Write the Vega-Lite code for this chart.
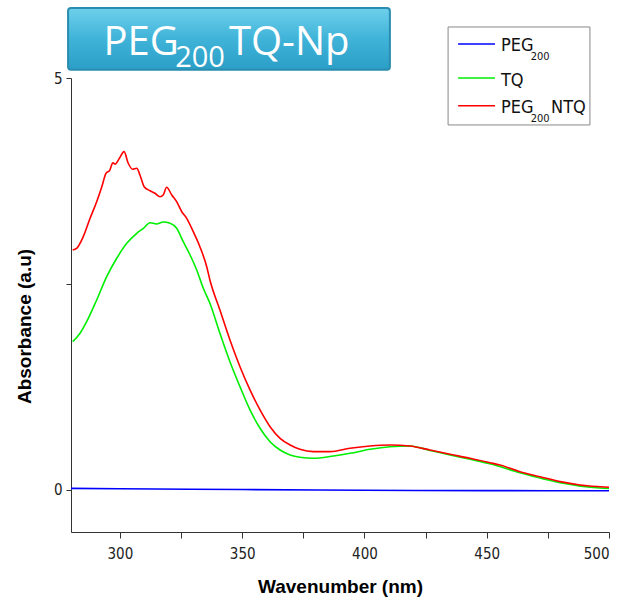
{
  "$schema": "https://vega.github.io/schema/vega-lite/v6.json",
  "width": 538,
  "height": 454,
  "autosize": {"type": "none"},
  "padding": {"left": 71, "top": 78, "right": 13, "bottom": 74},
  "background": "white",
  "config": {
    "view": {"stroke": null},
    "axis": {"grid": false, "domainColor": "#333333", "tickColor": "#333333", "labelColor": "#222222", "titleColor": "#000000"}
  },
  "datasets": {
    "spectra": [
      {"series": "PEG200", "wl": 280, "abs": 0.02},
      {"series": "PEG200", "wl": 300, "abs": 0.015},
      {"series": "PEG200", "wl": 350, "abs": 0.005},
      {"series": "PEG200", "wl": 400, "abs": -0.004},
      {"series": "PEG200", "wl": 450, "abs": -0.008},
      {"series": "PEG200", "wl": 500, "abs": -0.01},
      {"series": "TQ", "wl": 280.7, "abs": 1.8},
      {"series": "TQ", "wl": 283.7, "abs": 1.902},
      {"series": "TQ", "wl": 286.4, "abs": 2.042},
      {"series": "TQ", "wl": 290.5, "abs": 2.306},
      {"series": "TQ", "wl": 294.6, "abs": 2.589},
      {"series": "TQ", "wl": 298.7, "abs": 2.812},
      {"series": "TQ", "wl": 302.8, "abs": 2.994},
      {"series": "TQ", "wl": 306.9, "abs": 3.115},
      {"series": "TQ", "wl": 309.6, "abs": 3.176},
      {"series": "TQ", "wl": 312.3, "abs": 3.244},
      {"series": "TQ", "wl": 315.0, "abs": 3.228},
      {"series": "TQ", "wl": 317.7, "abs": 3.252},
      {"series": "TQ", "wl": 320.5, "abs": 3.237},
      {"series": "TQ", "wl": 323.2, "abs": 3.176},
      {"series": "TQ", "wl": 325.9, "abs": 3.013},
      {"series": "TQ", "wl": 328.7, "abs": 2.852},
      {"series": "TQ", "wl": 331.4, "abs": 2.67},
      {"series": "TQ", "wl": 334.1, "abs": 2.448},
      {"series": "TQ", "wl": 336.8, "abs": 2.266},
      {"series": "TQ", "wl": 340.9, "abs": 1.902},
      {"series": "TQ", "wl": 345.0, "abs": 1.557},
      {"series": "TQ", "wl": 349.1, "abs": 1.254},
      {"series": "TQ", "wl": 353.2, "abs": 0.971},
      {"series": "TQ", "wl": 357.3, "abs": 0.749},
      {"series": "TQ", "wl": 361.4, "abs": 0.586},
      {"series": "TQ", "wl": 365.5, "abs": 0.485},
      {"series": "TQ", "wl": 369.6, "abs": 0.425},
      {"series": "TQ", "wl": 373.6, "abs": 0.397},
      {"series": "TQ", "wl": 379.1, "abs": 0.385},
      {"series": "TQ", "wl": 387.3, "abs": 0.413},
      {"series": "TQ", "wl": 394.1, "abs": 0.445},
      {"series": "TQ", "wl": 402.3, "abs": 0.494},
      {"series": "TQ", "wl": 410.4, "abs": 0.525},
      {"series": "TQ", "wl": 418.6, "abs": 0.534},
      {"series": "TQ", "wl": 426.8, "abs": 0.48},
      {"series": "TQ", "wl": 435.0, "abs": 0.425},
      {"series": "TQ", "wl": 443.2, "abs": 0.373},
      {"series": "TQ", "wl": 451.3, "abs": 0.319},
      {"series": "TQ", "wl": 463.6, "abs": 0.21},
      {"series": "TQ", "wl": 480.0, "abs": 0.089},
      {"series": "TQ", "wl": 496.3, "abs": 0.024},
      {"series": "TQ", "wl": 500, "abs": 0.018},
      {"series": "PEG200NTQ", "wl": 280.7, "abs": 2.913},
      {"series": "PEG200NTQ", "wl": 282.3, "abs": 2.933},
      {"series": "PEG200NTQ", "wl": 285.0, "abs": 3.074},
      {"series": "PEG200NTQ", "wl": 287.8, "abs": 3.297},
      {"series": "PEG200NTQ", "wl": 290.5, "abs": 3.499},
      {"series": "PEG200NTQ", "wl": 292.6, "abs": 3.681},
      {"series": "PEG200NTQ", "wl": 294.3, "abs": 3.843},
      {"series": "PEG200NTQ", "wl": 295.9, "abs": 3.883},
      {"series": "PEG200NTQ", "wl": 297.1, "abs": 3.972},
      {"series": "PEG200NTQ", "wl": 298.0, "abs": 3.956},
      {"series": "PEG200NTQ", "wl": 299.8, "abs": 4.026},
      {"series": "PEG200NTQ", "wl": 301.7, "abs": 4.106},
      {"series": "PEG200NTQ", "wl": 303.4, "abs": 3.965},
      {"series": "PEG200NTQ", "wl": 305.2, "abs": 3.892},
      {"series": "PEG200NTQ", "wl": 306.9, "abs": 3.904},
      {"series": "PEG200NTQ", "wl": 308.2, "abs": 3.823},
      {"series": "PEG200NTQ", "wl": 309.9, "abs": 3.681},
      {"series": "PEG200NTQ", "wl": 312.3, "abs": 3.632},
      {"series": "PEG200NTQ", "wl": 314.3, "abs": 3.601},
      {"series": "PEG200NTQ", "wl": 316.4, "abs": 3.559},
      {"series": "PEG200NTQ", "wl": 317.7, "abs": 3.58},
      {"series": "PEG200NTQ", "wl": 319.1, "abs": 3.674},
      {"series": "PEG200NTQ", "wl": 321.2, "abs": 3.58},
      {"series": "PEG200NTQ", "wl": 323.2, "abs": 3.499},
      {"series": "PEG200NTQ", "wl": 325.3, "abs": 3.377},
      {"series": "PEG200NTQ", "wl": 327.3, "abs": 3.297},
      {"series": "PEG200NTQ", "wl": 330.0, "abs": 3.135},
      {"series": "PEG200NTQ", "wl": 332.7, "abs": 2.953},
      {"series": "PEG200NTQ", "wl": 335.5, "abs": 2.71},
      {"series": "PEG200NTQ", "wl": 336.8, "abs": 2.549},
      {"series": "PEG200NTQ", "wl": 340.9, "abs": 2.184},
      {"series": "PEG200NTQ", "wl": 345.0, "abs": 1.82},
      {"series": "PEG200NTQ", "wl": 349.1, "abs": 1.496},
      {"series": "PEG200NTQ", "wl": 353.2, "abs": 1.214},
      {"series": "PEG200NTQ", "wl": 357.3, "abs": 0.971},
      {"series": "PEG200NTQ", "wl": 361.4, "abs": 0.768},
      {"series": "PEG200NTQ", "wl": 365.5, "abs": 0.627},
      {"series": "PEG200NTQ", "wl": 369.6, "abs": 0.546},
      {"series": "PEG200NTQ", "wl": 373.6, "abs": 0.494},
      {"series": "PEG200NTQ", "wl": 379.1, "abs": 0.465},
      {"series": "PEG200NTQ", "wl": 385.9, "abs": 0.465},
      {"series": "PEG200NTQ", "wl": 394.1, "abs": 0.506},
      {"series": "PEG200NTQ", "wl": 402.3, "abs": 0.534},
      {"series": "PEG200NTQ", "wl": 410.4, "abs": 0.546},
      {"series": "PEG200NTQ", "wl": 418.6, "abs": 0.534},
      {"series": "PEG200NTQ", "wl": 426.8, "abs": 0.485},
      {"series": "PEG200NTQ", "wl": 435.0, "abs": 0.433},
      {"series": "PEG200NTQ", "wl": 443.2, "abs": 0.385},
      {"series": "PEG200NTQ", "wl": 451.3, "abs": 0.331},
      {"series": "PEG200NTQ", "wl": 455.4, "abs": 0.303},
      {"series": "PEG200NTQ", "wl": 463.6, "abs": 0.222},
      {"series": "PEG200NTQ", "wl": 471.8, "abs": 0.161},
      {"series": "PEG200NTQ", "wl": 480.0, "abs": 0.101},
      {"series": "PEG200NTQ", "wl": 488.1, "abs": 0.061},
      {"series": "PEG200NTQ", "wl": 496.3, "abs": 0.04},
      {"series": "PEG200NTQ", "wl": 500, "abs": 0.033}
    ]
  },
  "layer": [
    {
      "data": {"name": "spectra"},
      "mark": {"type": "line", "strokeWidth": 1.6, "clip": true, "interpolate": "monotone"},
      "encoding": {
        "x": {
          "field": "wl", "type": "quantitative",
          "scale": {"domain": [280, 500], "nice": false, "zero": false},
          "axis": {
            "title": "Wavenumber (nm)",
            "values": [300, 325, 350, 375, 400, 425, 450, 475, 500],
            "labelExpr": "datum.value % 50 == 0 ? datum.label : ''",
            "tickSize": 6, "labelPadding": 8,
            "labelFont": "Liberation Sans Narrow, DejaVu Sans Condensed, sans-serif",
            "labelFontSize": 15,
            "titleFont": "Liberation Sans, Arial, sans-serif",
            "titleFontSize": 19, "titleFontWeight": "bold", "titlePadding": 16
          }
        },
        "y": {
          "field": "abs", "type": "quantitative",
          "scale": {"domain": [-0.51, 5], "nice": false, "zero": false},
          "axis": {
            "title": "Absorbance (a.u)",
            "values": [0, 2.5, 5],
            "labelExpr": "datum.value == 2.5 ? '' : format(datum.value, 'd')",
            "tickSize": 5, "labelPadding": 4,
            "labelFont": "Liberation Sans Narrow, DejaVu Sans Condensed, sans-serif",
            "labelFontSize": 15,
            "titleFont": "Liberation Sans, Arial, sans-serif",
            "titleFontSize": 19, "titleFontWeight": "bold", "titlePadding": 19,
            "titleY": 248
          }
        },
        "color": {
          "field": "series", "type": "nominal",
          "scale": {"domain": ["PEG200", "TQ", "PEG200NTQ"], "range": ["#0000ff", "#00ee00", "#ff0000"]},
          "legend": null
        }
      }
    },
    {
      "data": {"values": [{}]},
      "mark": {"type": "rect", "cornerRadius": 3, "stroke": "#2a8db0", "strokeWidth": 2,
        "fill": {"gradient": "linear", "x1": 0, "y1": 0, "x2": 0, "y2": 1,
          "stops": [{"offset": 0, "color": "#6fd0ec"}, {"offset": 0.5, "color": "#3fb3d8"}, {"offset": 1, "color": "#2a9ec6"}]}},
      "encoding": {
        "x": {"datum": 278.8}, "x2": {"datum": 410.4},
        "y": {"datum": 5.85}, "y2": {"datum": 5.1}
      }
    },
    {
      "data": {"values": [{}]},
      "mark": {"type": "text", "text": "PEG", "align": "left", "baseline": "alphabetic", "font": "Open Sans, sans-serif", "fontSize": 40, "fill": "white"},
      "encoding": {"x": {"datum": 293.3}, "y": {"datum": 5.279}}
    },
    {
      "data": {"values": [{}]},
      "mark": {"type": "text", "text": "200", "align": "left", "baseline": "alphabetic", "font": "Open Sans, sans-serif", "fontSize": 29, "fill": "white"},
      "encoding": {"x": {"datum": 322.6}, "y": {"datum": 5.133}}
    },
    {
      "data": {"values": [{}]},
      "mark": {"type": "text", "text": "TQ-Np", "align": "left", "baseline": "alphabetic", "font": "Open Sans, sans-serif", "fontSize": 40, "fill": "white"},
      "encoding": {"x": {"datum": 344.6}, "y": {"datum": 5.279}}
    },
    {
      "data": {"values": [{}]},
      "mark": {"type": "rect", "fill": "white", "stroke": "#888888", "strokeWidth": 1},
      "encoding": {
        "x": {"datum": 434.2}, "x2": {"datum": 492.2},
        "y": {"datum": 5.619}, "y2": {"datum": 4.43}
      }
    },
    {
      "data": {"values": [{}]},
      "mark": {"type": "rule", "stroke": "#0000ff", "strokeWidth": 1.6},
      "encoding": {"x": {"datum": 438.3}, "x2": {"datum": 453.4}, "y": {"datum": 5.413}}
    },
    {
      "data": {"values": [{}]},
      "mark": {"type": "rule", "stroke": "#00ee00", "strokeWidth": 1.6},
      "encoding": {"x": {"datum": 438.3}, "x2": {"datum": 453.4}, "y": {"datum": 5.0}}
    },
    {
      "data": {"values": [{}]},
      "mark": {"type": "rule", "stroke": "#ff0000", "strokeWidth": 1.6},
      "encoding": {"x": {"datum": 438.3}, "x2": {"datum": 453.4}, "y": {"datum": 4.664}}
    },
    {
      "data": {"values": [{}]},
      "mark": {"type": "text", "text": "PEG", "align": "left", "baseline": "alphabetic", "font": "Liberation Sans Narrow, DejaVu Sans Condensed, sans-serif", "fontSize": 18, "fill": "#111111"},
      "encoding": {"x": {"datum": 455.8}, "y": {"datum": 5.328}}
    },
    {
      "data": {"values": [{}]},
      "mark": {"type": "text", "text": "200", "align": "left", "baseline": "alphabetic", "font": "Liberation Sans Narrow, DejaVu Sans Condensed, sans-serif", "fontSize": 11, "fill": "#111111"},
      "encoding": {"x": {"datum": 468.0}, "y": {"datum": 5.218}}
    },
    {
      "data": {"values": [{}]},
      "mark": {"type": "text", "text": "TQ", "align": "left", "baseline": "alphabetic", "font": "Liberation Sans Narrow, DejaVu Sans Condensed, sans-serif", "fontSize": 18, "fill": "#111111"},
      "encoding": {"x": {"datum": 455.8}, "y": {"datum": 4.903}}
    },
    {
      "data": {"values": [{}]},
      "mark": {"type": "text", "text": "PEG", "align": "left", "baseline": "alphabetic", "font": "Liberation Sans Narrow, DejaVu Sans Condensed, sans-serif", "fontSize": 18, "fill": "#111111"},
      "encoding": {"x": {"datum": 455.8}, "y": {"datum": 4.579}}
    },
    {
      "data": {"values": [{}]},
      "mark": {"type": "text", "text": "200", "align": "left", "baseline": "alphabetic", "font": "Liberation Sans Narrow, DejaVu Sans Condensed, sans-serif", "fontSize": 11, "fill": "#111111"},
      "encoding": {"x": {"datum": 468.0}, "y": {"datum": 4.47}}
    },
    {
      "data": {"values": [{}]},
      "mark": {"type": "text", "text": "NTQ", "align": "left", "baseline": "alphabetic", "font": "Liberation Sans Narrow, DejaVu Sans Condensed, sans-serif", "fontSize": 18, "fill": "#111111"},
      "encoding": {"x": {"datum": 476.3}, "y": {"datum": 4.579}}
    }
  ]
}
